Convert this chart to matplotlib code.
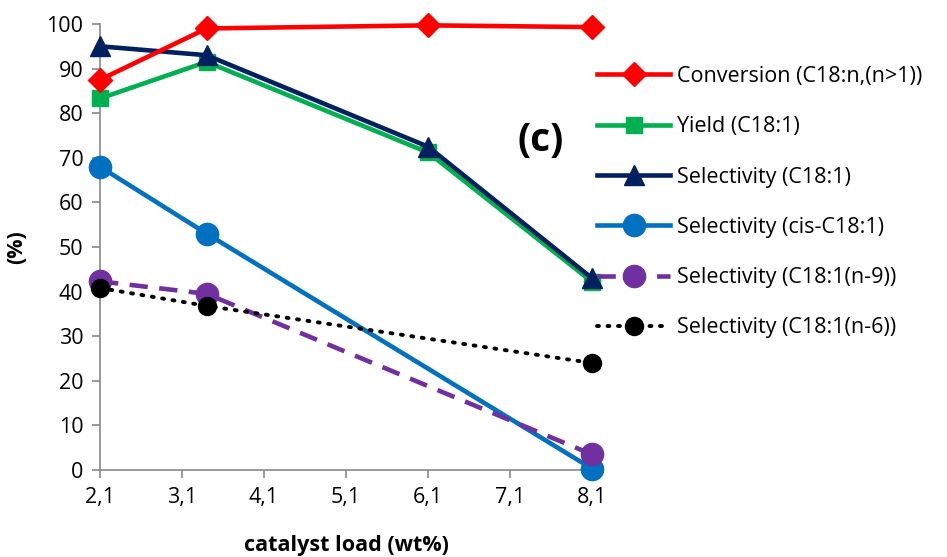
import matplotlib.pyplot as plt

# catalyst load (wt%)
x_all = [2.1, 3.4, 6.1, 8.1]
x_part = [2.1, 3.4, 8.1]

conversion = [87.5, 99.0, 99.7, 99.3]
yield_c181 = [83.3, 91.5, 71.2, 42.2]
sel_c181 = [95.0, 93.0, 72.5, 43.0]
sel_cis = [68.0, 53.0, 0.3]
sel_n9 = [42.3, 39.5, 3.5]
sel_n6 = [40.8, 36.8, 24.0]

xticks = [2.1, 3.1, 4.1, 5.1, 6.1, 7.1, 8.1]
xtick_labels = ["2,1", "3,1", "4,1", "5,1", "6,1", "7,1", "8,1"]
yticks = list(range(0, 101, 10))

plt.rcParams["font.family"] = ["Open Sans", "DejaVu Sans"]

fig = plt.figure(figsize=(9.47, 5.57), dpi=100)
ax = fig.add_axes([100 / 947, 1 - 470 / 557, 492 / 947, 446 / 557])

ax.plot(x_all, conversion, color="#ff0000", lw=3.3, marker="D", ms=12,
        label="Conversion (C18:n,(n>1))", clip_on=False, zorder=5)
ax.plot(x_all, yield_c181, color="#00b050", lw=3.3, marker="s", ms=12,
        label="Yield (C18:1)", clip_on=False, zorder=3)
ax.plot(x_all, sel_c181, color="#002060", lw=3.3, marker="^", ms=14,
        label="Selectivity (C18:1)", clip_on=False, zorder=4)
ax.plot(x_part, sel_cis, color="#0070c0", lw=3.3, marker="o", ms=16,
        label="Selectivity (cis-C18:1)", clip_on=False, zorder=3)
ax.plot(x_part, sel_n9, color="#7030a0", lw=3.3, ls=(0, (4, 2.5)), marker="o", ms=16,
        label="Selectivity (C18:1(n-9))", clip_on=False, zorder=3)
ax.plot(x_part, sel_n6, color="black", lw=2.8, ls=(0, (0.5, 2.2)), dash_capstyle="round",
        marker="o", ms=13, label="Selectivity (C18:1(n-6))", clip_on=False, zorder=4)

ax.set_xlim(2.1, 8.1)
ax.set_ylim(0, 100)
ax.set_xticks(xticks)
ax.set_xticklabels(xtick_labels)
ax.set_yticks(yticks)
ax.tick_params(axis="both", labelsize=15.5, color="#888888", length=6, width=1.2, pad=6)
for side in ["top", "right"]:
    ax.spines[side].set_visible(False)
for side in ["left", "bottom"]:
    ax.spines[side].set_color("#888888")
    ax.spines[side].set_linewidth(1.2)

ax.set_xlabel("catalyst load (wt%)", fontsize=15.5, fontweight="bold", labelpad=20)
ax.set_ylabel("(%)", fontsize=15.5, fontweight="bold", labelpad=14)

fig.text(541 / 947, 1 - 140 / 557, "(c)", fontsize=28, fontweight="bold",
         ha="center", va="center")

ax.legend(loc="upper left", bbox_to_anchor=(597 / 947, 1 - 66 / 557),
          bbox_transform=fig.transFigure, frameon=False, fontsize=15.5,
          handlelength=3.4, handletextpad=0.3, labelspacing=1.36,
          borderaxespad=0, borderpad=0)

fig.savefig("out.png", dpi=100)
